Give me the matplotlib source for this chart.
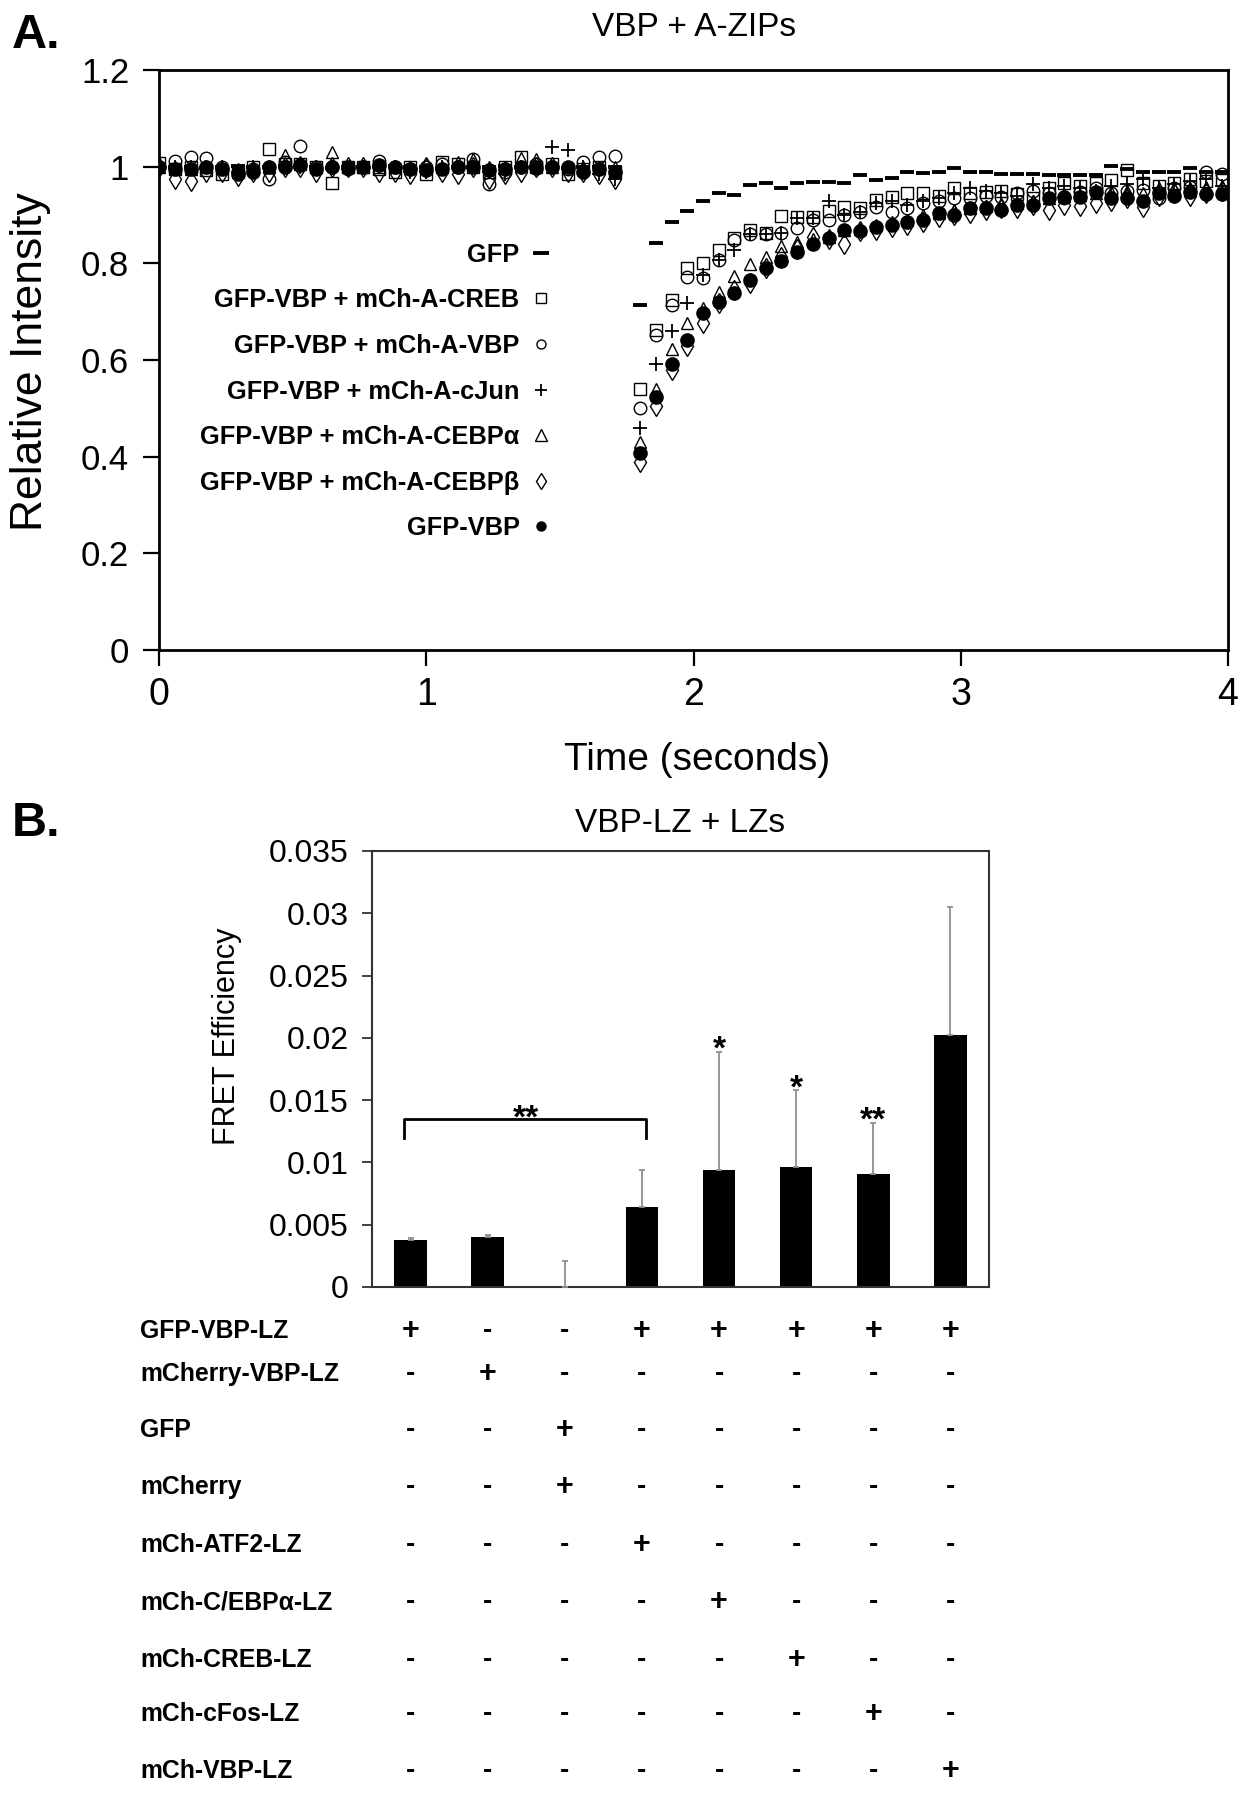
import matplotlib
matplotlib.use('Agg')
import matplotlib.pyplot as plt
import matplotlib.transforms as mtransforms
import numpy as np

plt.rcParams['font.family'] = ['Liberation Sans', 'DejaVu Sans']

# ---- panel A: FRAP recovery (Relative Intensity vs time) ----
time_pre = [0.000, 0.059, 0.118, 0.176, 0.235, 0.294, 0.353, 0.412, 0.471, 0.529,
            0.588, 0.647, 0.706, 0.765, 0.824, 0.882, 0.941, 1.000, 1.059, 1.118,
            1.176, 1.235, 1.294, 1.353, 1.412, 1.471, 1.529, 1.588, 1.647, 1.706]
time_post = [1.800, 1.859, 1.918, 1.976, 2.035, 2.094, 2.153, 2.212, 2.270, 2.329,
             2.388, 2.447, 2.506, 2.564, 2.623, 2.682, 2.741, 2.800, 2.858, 2.917,
             2.976, 3.035, 3.094, 3.152, 3.211, 3.270, 3.329, 3.388, 3.446, 3.505,
             3.564, 3.623, 3.682, 3.740, 3.799, 3.858, 3.917, 3.976]

gfp_pre = [1.000, 1.000, 1.000, 0.998, 1.000, 1.002, 1.000, 1.000, 1.002, 1.000,
           1.000, 0.998, 1.000, 1.000, 1.000, 1.002, 1.000, 1.000, 0.998, 1.000,
           1.000, 1.000, 1.002, 1.000, 1.000, 1.000, 0.998, 1.000, 1.000, 1.000]
gfp_post = [0.714, 0.843, 0.885, 0.908, 0.928, 0.945, 0.941, 0.962, 0.966, 0.955,
            0.966, 0.969, 0.969, 0.966, 0.983, 0.972, 0.976, 0.990, 0.986, 0.988,
            0.997, 0.990, 0.988, 0.984, 0.984, 0.984, 0.982, 0.982, 0.983, 0.983,
            1.002, 0.996, 0.988, 0.988, 0.988, 0.997, 0.990, 0.988]

creb_pre = [1.008, 0.995, 1.000, 0.993, 0.985, 0.990, 1.000, 1.037, 1.005, 1.005,
            1.000, 0.967, 1.000, 1.000, 0.995, 0.990, 1.000, 0.985, 1.010, 1.005,
            1.000, 0.990, 1.000, 1.020, 1.000, 1.005, 0.985, 0.995, 1.000, 0.990]
creb_post = [0.541, 0.663, 0.724, 0.790, 0.800, 0.828, 0.852, 0.868, 0.862, 0.898,
             0.895, 0.895, 0.909, 0.917, 0.914, 0.931, 0.938, 0.945, 0.945, 0.940,
             0.955, 0.945, 0.948, 0.950, 0.943, 0.935, 0.955, 0.966, 0.960, 0.966,
             0.973, 0.993, 0.966, 0.960, 0.966, 0.975, 0.970, 0.973]

avbp_pre = [1.000, 1.012, 1.020, 1.018, 1.000, 0.990, 0.995, 0.975, 1.010, 1.043,
            1.000, 1.000, 0.995, 1.000, 1.012, 1.000, 0.995, 1.000, 1.005, 1.000,
            1.015, 0.965, 0.990, 1.000, 1.005, 1.000, 0.995, 1.010, 1.020, 1.022]
avbp_post = [0.500, 0.652, 0.714, 0.772, 0.770, 0.807, 0.848, 0.860, 0.860, 0.863,
             0.874, 0.890, 0.890, 0.900, 0.907, 0.917, 0.907, 0.914, 0.925, 0.930,
             0.935, 0.935, 0.940, 0.938, 0.945, 0.950, 0.945, 0.935, 0.948, 0.955,
             0.945, 0.950, 0.952, 0.935, 0.955, 0.958, 0.990, 0.985]

cjun_pre = [1.000, 1.000, 1.000, 1.000, 1.000, 0.990, 1.000, 1.000, 1.000, 1.000,
            1.000, 1.000, 0.995, 1.000, 1.000, 1.000, 0.990, 0.990, 1.000, 1.000,
            1.000, 0.990, 0.985, 1.000, 1.000, 1.040, 1.035, 1.000, 0.985, 0.975]
cjun_post = [0.459, 0.592, 0.659, 0.717, 0.776, 0.807, 0.828, 0.860, 0.860, 0.863,
             0.893, 0.893, 0.928, 0.900, 0.907, 0.925, 0.928, 0.920, 0.930, 0.935,
             0.945, 0.955, 0.950, 0.945, 0.940, 0.965, 0.955, 0.960, 0.955, 0.950,
             0.960, 0.965, 0.975, 0.955, 0.965, 0.970, 0.975, 0.960]

cebpa_pre = [1.000, 1.000, 0.995, 1.000, 1.000, 0.995, 1.000, 1.000, 1.025, 1.010,
             1.000, 1.030, 1.000, 1.000, 1.000, 1.000, 1.000, 1.005, 1.000, 1.010,
             1.015, 1.000, 1.000, 1.018, 1.015, 1.000, 1.000, 1.000, 1.000, 1.000]
cebpa_post = [0.431, 0.541, 0.622, 0.676, 0.707, 0.741, 0.774, 0.799, 0.814, 0.835,
              0.845, 0.850, 0.855, 0.869, 0.872, 0.880, 0.885, 0.890, 0.900, 0.905,
              0.910, 0.915, 0.918, 0.920, 0.925, 0.930, 0.935, 0.940, 0.942, 0.945,
              0.948, 0.950, 0.945, 0.955, 0.955, 0.955, 0.958, 0.960]

cebpb_pre = [1.000, 0.975, 0.970, 0.990, 0.990, 0.980, 0.990, 0.990, 1.000, 1.000,
             0.990, 1.000, 1.000, 1.000, 0.990, 0.990, 0.985, 1.000, 0.990, 0.985,
             1.000, 0.975, 0.985, 0.990, 1.000, 1.000, 0.990, 0.990, 0.985, 0.975]
cebpb_post = [0.390, 0.504, 0.580, 0.630, 0.676, 0.717, 0.745, 0.760, 0.790, 0.814,
              0.830, 0.855, 0.850, 0.841, 0.866, 0.870, 0.875, 0.880, 0.885, 0.895,
              0.900, 0.905, 0.910, 0.915, 0.915, 0.920, 0.910, 0.920, 0.918, 0.925,
              0.930, 0.935, 0.917, 0.940, 0.945, 0.940, 0.945, 0.950]

vbp_pre = [1.000, 0.995, 0.995, 1.000, 0.995, 0.985, 0.990, 1.000, 1.000, 1.003,
           0.995, 1.000, 1.000, 1.000, 1.003, 1.000, 0.995, 0.993, 0.995, 1.000,
           1.000, 0.993, 0.995, 1.000, 0.997, 1.000, 1.000, 0.990, 0.995, 0.990]
vbp_post = [0.407, 0.524, 0.592, 0.641, 0.697, 0.719, 0.738, 0.766, 0.790, 0.804,
            0.824, 0.841, 0.852, 0.869, 0.866, 0.876, 0.879, 0.886, 0.890, 0.904,
            0.900, 0.914, 0.914, 0.910, 0.921, 0.921, 0.935, 0.938, 0.938, 0.948,
            0.935, 0.935, 0.928, 0.945, 0.940, 0.948, 0.943, 0.943]

series_labels = ['GFP', 'GFP-VBP + mCh-A-CREB', 'GFP-VBP + mCh-A-VBP',
                 'GFP-VBP + mCh-A-cJun', 'GFP-VBP + mCh-A-CEBPα',
                 'GFP-VBP + mCh-A-CEBPβ', 'GFP-VBP']
series_pre = [gfp_pre, creb_pre, avbp_pre, cjun_pre, cebpa_pre, cebpb_pre, vbp_pre]
series_post = [gfp_post, creb_post, avbp_post, cjun_post, cebpa_post, cebpb_post, vbp_post]

a_xticks = [0, 1, 2, 3, 4]
a_yticks = [0, 0.2, 0.4, 0.6, 0.8, 1.0, 1.2]
a_yticklabels = ['0', '0.2', '0.4', '0.6', '0.8', '1', '1.2']

# ---- panel B: FRET efficiency bars ----
bar_values = [0.0038, 0.0040, 0.0, 0.0064, 0.0094, 0.0096, 0.0091, 0.0202]
bar_errors = [0.0001, 0.0002, 0.0021, 0.0030, 0.0095, 0.0062, 0.0041, 0.0103]
bar_stars = ['', '', '', '', '*', '*', '**', '']
bracket_pair = (0, 3)
bracket_label = '**'
bracket_level = 0.0135
b_yticks = [0, 0.005, 0.01, 0.015, 0.02, 0.025, 0.03, 0.035]
b_yticklabels = ['0', '0.005', '0.01', '0.015', '0.02', '0.025', '0.03', '0.035']

table_rows = ['GFP-VBP-LZ', 'mCherry-VBP-LZ', 'GFP', 'mCherry', 'mCh-ATF2-LZ',
              'mCh-C/EBPα-LZ', 'mCh-CREB-LZ', 'mCh-cFos-LZ', 'mCh-VBP-LZ']
table_marks = [
    ['+', '-', '-', '+', '+', '+', '+', '+'],
    ['-', '+', '-', '-', '-', '-', '-', '-'],
    ['-', '-', '+', '-', '-', '-', '-', '-'],
    ['-', '-', '+', '-', '-', '-', '-', '-'],
    ['-', '-', '-', '+', '-', '-', '-', '-'],
    ['-', '-', '-', '-', '+', '-', '-', '-'],
    ['-', '-', '-', '-', '-', '+', '-', '-'],
    ['-', '-', '-', '-', '-', '-', '+', '-'],
    ['-', '-', '-', '-', '-', '-', '-', '+'],
]

# marker styles: (marker, size, face, edge width, legend size)
styles = [('_', 10, 'none', 2.8, 11),
          ('s', 8.5, 'none', 1.0, 6.5),
          ('o', 9, 'none', 1.0, 6.5),
          ('+', 10, 'none', 1.3, 8.5),
          ('^', 9, 'none', 1.0, 8.5),
          ('d', 10, 'none', 1.0, 8.5),
          ('o', 9.5, 'black', 1.0, 6.5)]

W, H = 1251, 1800
fig = plt.figure(figsize=(W / 100, H / 100), dpi=100)


def box(l, t, r, b):
    return [l / W, 1 - b / H, (r - l) / W, (b - t) / H]


def fx(x):
    return x / W


def fy(y):
    return 1 - y / H


# panel A
ax_a = fig.add_axes(box(159, 70, 1228, 650))
lines = []
for pre, post, (m, ms, fc, mew, _), lab in zip(series_pre, series_post, styles, series_labels):
    ln, = ax_a.plot(time_pre + time_post, pre + post, linestyle='none', marker=m,
                    markersize=ms, markerfacecolor=fc, markeredgecolor='black',
                    markeredgewidth=mew, color='black', label=lab)
    lines.append(ln)
ax_a.set_xlim(0, 4)
ax_a.set_ylim(0, 1.2)
ax_a.set_xticks(a_xticks)
ax_a.set_xticklabels([str(v) for v in a_xticks])
ax_a.set_yticks(a_yticks)
ax_a.set_yticklabels(a_yticklabels)
ax_a.tick_params(direction='out', length=11.5, width=1.6, color='black')
ax_a.tick_params(axis='x', labelsize=27, pad=8)
ax_a.tick_params(axis='y', labelsize=25, pad=10)
for sp in ax_a.spines.values():
    sp.set_linewidth(2.0)

leg = ax_a.legend(lines, series_labels, loc='upper right',
                  bbox_to_anchor=(fx(564), fy(230)), bbox_transform=fig.transFigure,
                  markerfirst=False, frameon=False, borderpad=0, handlelength=0.8,
                  handletextpad=0.45, labelspacing=0.85,
                  prop={'weight': 'bold', 'size': 18.3})
for h, st in zip(leg.legend_handles, styles):
    h.set_markersize(st[4])

fig.text(fx(12), fy(35), 'A.', fontsize=35, fontweight='bold', ha='left', va='center')
fig.text(fx(694), fy(27), 'VBP + A-ZIPs', fontsize=24, ha='center', va='center')
fig.text(fx(31), fy(362), 'Relative Intensity', fontsize=32, rotation=90,
         ha='center', va='center')
fig.text(fx(697), fy(760), 'Time (seconds)', fontsize=28, ha='center', va='center')

# panel B
ax_b = fig.add_axes(box(372, 851, 989, 1287))
xpos = np.arange(len(bar_values))
ax_b.bar(xpos, bar_values, width=0.42, color='black', zorder=2)
ax_b.errorbar(xpos, bar_values, yerr=[np.zeros(len(bar_errors)), bar_errors],
              fmt='none', ecolor='#909090', elinewidth=1.3, capsize=2, capthick=1.3,
              zorder=3)
ax_b.set_xlim(-0.5, len(bar_values) - 0.5)
ax_b.set_ylim(0, 0.035)
ax_b.set_xticks([])
ax_b.set_yticks(b_yticks)
ax_b.set_yticklabels(b_yticklabels)
ax_b.tick_params(axis='y', direction='out', length=7, width=1.3, labelsize=23, pad=10,
                 color='#333333')
for sp in ax_b.spines.values():
    sp.set_linewidth(1.5)
    sp.set_color('#333333')

for x, v, e, s in zip(xpos, bar_values, bar_errors, bar_stars):
    if s:
        ax_b.annotate(s, xy=(x, v + e), xytext=(0, -5), textcoords='offset points',
                      ha='center', va='baseline', fontsize=24, fontweight='bold')

i0, i1 = bracket_pair
drop = 0.0015
ax_b.plot([i0 - 0.08, i0 - 0.08, i1 + 0.05, i1 + 0.05],
          [bracket_level - drop, bracket_level, bracket_level, bracket_level - drop],
          color='black', lw=2)
ax_b.annotate(bracket_label, xy=((i0 + i1) / 2, bracket_level), xytext=(0, -6),
              textcoords='offset points', ha='center', va='baseline', fontsize=24,
              fontweight='bold')

fig.text(fx(12), fy(823), 'B.', fontsize=35, fontweight='bold', ha='left', va='center')
fig.text(fx(680), fy(823), 'VBP-LZ + LZs', fontsize=24, ha='center', va='center')
fig.text(fx(227), fy(1036), 'FRET Efficiency', fontsize=22, rotation=90,
         ha='center', va='center')

# condition table under panel B
ax_t = fig.add_axes(box(372, 1300, 989, 1800))
ax_t.set_xlim(-0.5, len(bar_values) - 0.5)
ax_t.set_ylim(1800, 1300)
ax_t.axis('off')
row_y = [1331, 1374, 1430, 1487, 1545, 1602, 1660, 1714, 1771]
blend = mtransforms.blended_transform_factory(fig.transFigure, ax_t.transData)
for y, name, marks in zip(row_y, table_rows, table_marks):
    ax_t.text(fx(140), y, name, transform=blend, ha='left', va='center',
              fontsize=17.8, fontweight='bold')
    for x, m in zip(xpos, marks):
        ax_t.text(x, y, m, ha='center', va='center', fontsize=22 if m == '+' else 20,
                  fontweight='bold')

fig.savefig('out.png', dpi=100)
